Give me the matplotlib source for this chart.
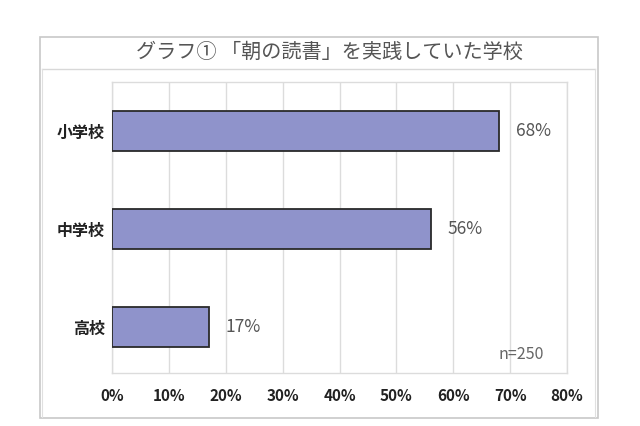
import matplotlib.pyplot as plt
from matplotlib.lines import Line2D
from matplotlib.patches import Rectangle

plt.rcParams['font.family'] = ['Noto Sans CJK JP', 'DejaVu Sans']

categories = ['小学校', '中学校', '高校']
values = [68, 56, 17]
xticks = [0, 10, 20, 30, 40, 50, 60, 70, 80]
title = 'グラフ① 「朝の読書」を実践していた学校'
note = 'n=250'

fig = plt.figure(figsize=(6.4, 4.26), dpi=100)

# outer frame + title separator
fig.patches.append(Rectangle((0.0625, 0.019), 0.872, 0.894, transform=fig.transFigure,
                             fill=False, edgecolor='#c8c8c8', linewidth=1.2))
fig.lines.append(Line2D([0.066, 0.930], [0.838, 0.838], transform=fig.transFigure,
                        color='#d8d8d8', linewidth=1.0))
fig.lines.append(Line2D([0.066, 0.066], [0.022, 0.838], transform=fig.transFigure,
                        color='#e0e0e0', linewidth=0.8))
fig.lines.append(Line2D([0.930, 0.930], [0.022, 0.838], transform=fig.transFigure,
                        color='#e0e0e0', linewidth=0.8))
fig.text(0.515, 0.876, title, ha='center', va='center', fontsize=14.5, color='#555555')

ax = fig.add_axes([0.175, 0.1244, 0.711, 0.683])
y = list(range(len(categories)))
ax.barh(y, values, height=0.41, color='#8f93cb', edgecolor='#2a2a2a', linewidth=1.3, zorder=3)
for yi, v in zip(y, values):
    ax.text(v + 3, yi, f'{v}%', va='center', ha='left', fontsize=12.5, color='#555555')

ax.set_xlim(0, 80)
ax.set_ylim(2.47, -0.5)
ax.set_xticks(xticks)
ax.set_xticklabels([f'{t}%' for t in xticks], fontsize=11, fontweight='bold', color='#222222')
ax.set_yticks(y)
ax.set_yticklabels(categories, fontsize=11.5, fontweight='bold', color='#222222')
ax.tick_params(axis='both', length=0)
ax.tick_params(axis='x', pad=11)
ax.tick_params(axis='y', pad=5)
ax.grid(axis='x', color='#dcdcdc', linewidth=1.0, zorder=0)
for s in ax.spines.values():
    s.set_color('#dcdcdc')
    s.set_linewidth(1.0)
ax.text(0.95, 0.065, note, transform=ax.transAxes, ha='right', va='center',
        fontsize=11.5, color='#666666')

fig.savefig('out.png', dpi=100)
